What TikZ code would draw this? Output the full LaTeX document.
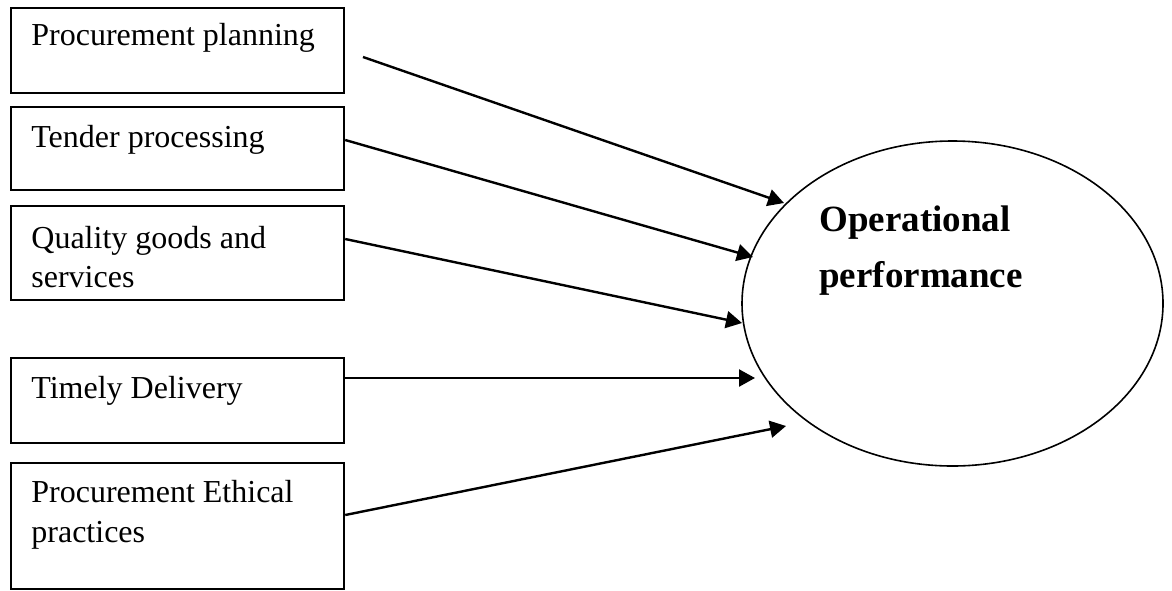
\documentclass[tikz,border=0pt]{standalone}
\usepackage{fontspec}
\setmainfont{Liberation Serif}
\usetikzlibrary{shapes.geometric,arrows.meta}
\begin{document}
\begin{tikzpicture}[x=0.5pt,y=-0.5pt,
  boxnode/.style={draw,line width=1.1pt,rectangle,inner sep=0pt,anchor=north west,minimum width=166.5pt},
  lbl/.style={anchor=base west,inner sep=0pt,font=\fontsize{16}{19.8}\selectfont},
  boldlbl/.style={anchor=base west,inner sep=0pt,font=\fontsize{18.5}{22}\selectfont\bfseries},
  conn/.style={line width=1.2pt,-{Triangle[length=8pt,width=8.5pt]}}]
\useasboundingbox (0,0) rectangle (1172,590);
% boxes
\node[boxnode,minimum height=42.5pt] (b1) at (10,7) {};
\node[boxnode,minimum height=41.5pt] (b2) at (10,106) {};
\node[boxnode,minimum height=47pt] (b3) at (10,205) {};
\node[boxnode,minimum height=42.5pt] (b4) at (10,357) {};
\node[boxnode,minimum height=63pt] (b5) at (10,462) {};
% labels
\node[lbl] (t1) at (31,45) {Procurement planning};
\node[lbl] (t2) at (31,147) {Tender processing};
\node[lbl] (t3a) at (31,248) {Quality goods and};
\node[lbl] (t3b) at (31,287) {services};
\node[lbl] (t4) at (31,398) {Timely Delivery};
\node[lbl] (t5a) at (31,502) {Procurement Ethical};
\node[lbl] (t5b) at (31,542) {practices};
% ellipse
\node[draw,ellipse,line width=0.8pt,minimum width=210.5pt,minimum height=162.5pt,inner sep=0pt] (op) at (952.5,303.5) {};
\node[boldlbl] (opa) at (819,231) {Operational};
\node[boldlbl] (opb) at (819,287) {performance};
% connector ends
\coordinate (s1) at (363,57);
\coordinate (e1) at (784,203);
\coordinate (s2) at (b2.north east |- 0,140);
\coordinate (e2) at (753,257);
\coordinate (s3) at (b3.north east |- 0,239);
\coordinate (e3) at (742,323);
\coordinate (s4) at (b4.north east |- 0,378);
\coordinate (e4) at (755,378);
\coordinate (s5) at (b5.north east |- 0,515);
\coordinate (e5) at (786,426);
\draw[conn] (s1) -- (e1);
\draw[conn] (s2) -- (e2);
\draw[conn] (s3) -- (e3);
\draw[conn] (s4) -- (e4);
\draw[conn] (s5) -- (e5);
\end{tikzpicture}
\end{document}
